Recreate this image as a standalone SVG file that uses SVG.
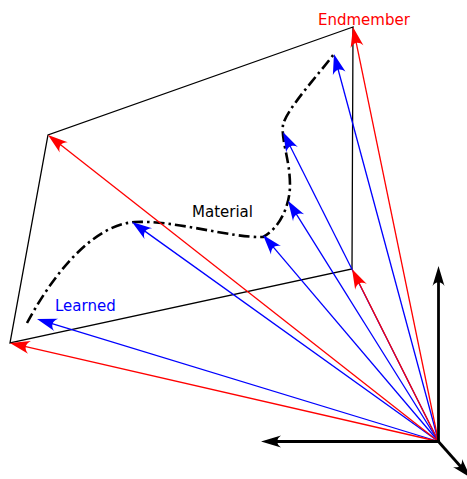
<svg xmlns="http://www.w3.org/2000/svg" width="467" height="479" viewBox="0 0 467 479">
  <style>
    .frame { fill: none; stroke: #000; stroke-width: 1.3; }
    .red { fill: none; stroke: #ff0000; stroke-width: 1.3; marker-end: url(#headRed); }
    .blue { fill: none; stroke: #0000ff; stroke-width: 1.3; marker-end: url(#headBlue); }
    .axis { fill: none; stroke: #000; stroke-width: 2.8; marker-end: url(#headBlack); }
    .curve { fill: none; stroke: #000; stroke-width: 2.6; stroke-dasharray: 11 4 2.5 4; }
    .lbl { font-family: "DejaVu Sans", sans-serif; font-size: 15px; }
  </style>
  <defs>
    <marker id="headRed" markerUnits="userSpaceOnUse" viewBox="-22 -8 24 16" markerWidth="24" markerHeight="16" refX="-14" refY="0" orient="auto">
      <path d="M0,0 L-20,-6.5 C-15,-2.5 -15,2.5 -20,6.5 Z" fill="#ff0000"/>
    </marker>
    <marker id="headBlue" markerUnits="userSpaceOnUse" viewBox="-22 -8 24 16" markerWidth="24" markerHeight="16" refX="-14" refY="0" orient="auto">
      <path d="M0,0 L-20,-6.5 C-15,-2.5 -15,2.5 -20,6.5 Z" fill="#0000ff"/>
    </marker>
    <marker id="headBlack" markerUnits="userSpaceOnUse" viewBox="-22 -8 24 16" markerWidth="24" markerHeight="16" refX="-14" refY="0" orient="auto">
      <path d="M0,0 L-20,-6 C-15,-2.5 -15,2.5 -20,6 Z" fill="#000"/>
    </marker>
  </defs>

  <g id="polytope">
    <path class="frame" d="M353,27 L48,135 L10,343 L352,269 Z"/>
  </g>

  <g id="material">
    <path class="curve" d="M27,323 C50,280 90,225 135,222 C175,220 230,238 263,237 C280,228 290,205 290,185 C290,160 281,140 283,125 C286,110 318,75 334,54"/>
    <text class="lbl" x="192" y="217" fill="#000">Material</text>
  </g>

  <g id="endmember-label">
    <text class="lbl" x="318" y="25" fill="#ff0000">Endmember</text>
  </g>

  <g id="learned-label">
    <text class="lbl" x="55" y="311" fill="#0000ff">Learned</text>
  </g>

  <g id="connectors">
    <path class="blue" d="M438.5,441.5 L337.6,67.5"/>
    <path class="blue" d="M438.5,441.5 L289.3,144.5"/>
    <path class="blue" d="M438.5,441.5 L295.4,212.6"/>
    <path class="blue" d="M438.5,441.5 L272.1,245.7"/>
    <path class="blue" d="M438.5,441.5 L143.4,230.1"/>
    <path class="blue" d="M438.5,441.5 L50.4,323.1"/>
    <path class="red" d="M438.5,441.5 L355.8,40.7"/>
    <path class="red" d="M438.5,441.5 L59.0,143.6"/>
    <path class="red" d="M438.5,441.5 L23.6,346.1"/>
    <path class="red" d="M438.5,441.5 L358.3,281.5"/>
    <path class="axis" d="M438.5,442.9 L438.5,280"/>
    <path class="axis" d="M439.9,441.5 L275,441.5"/>
    <path class="axis" d="M437.5,440.5 L461.5,467.5"/>
  </g>
</svg>
